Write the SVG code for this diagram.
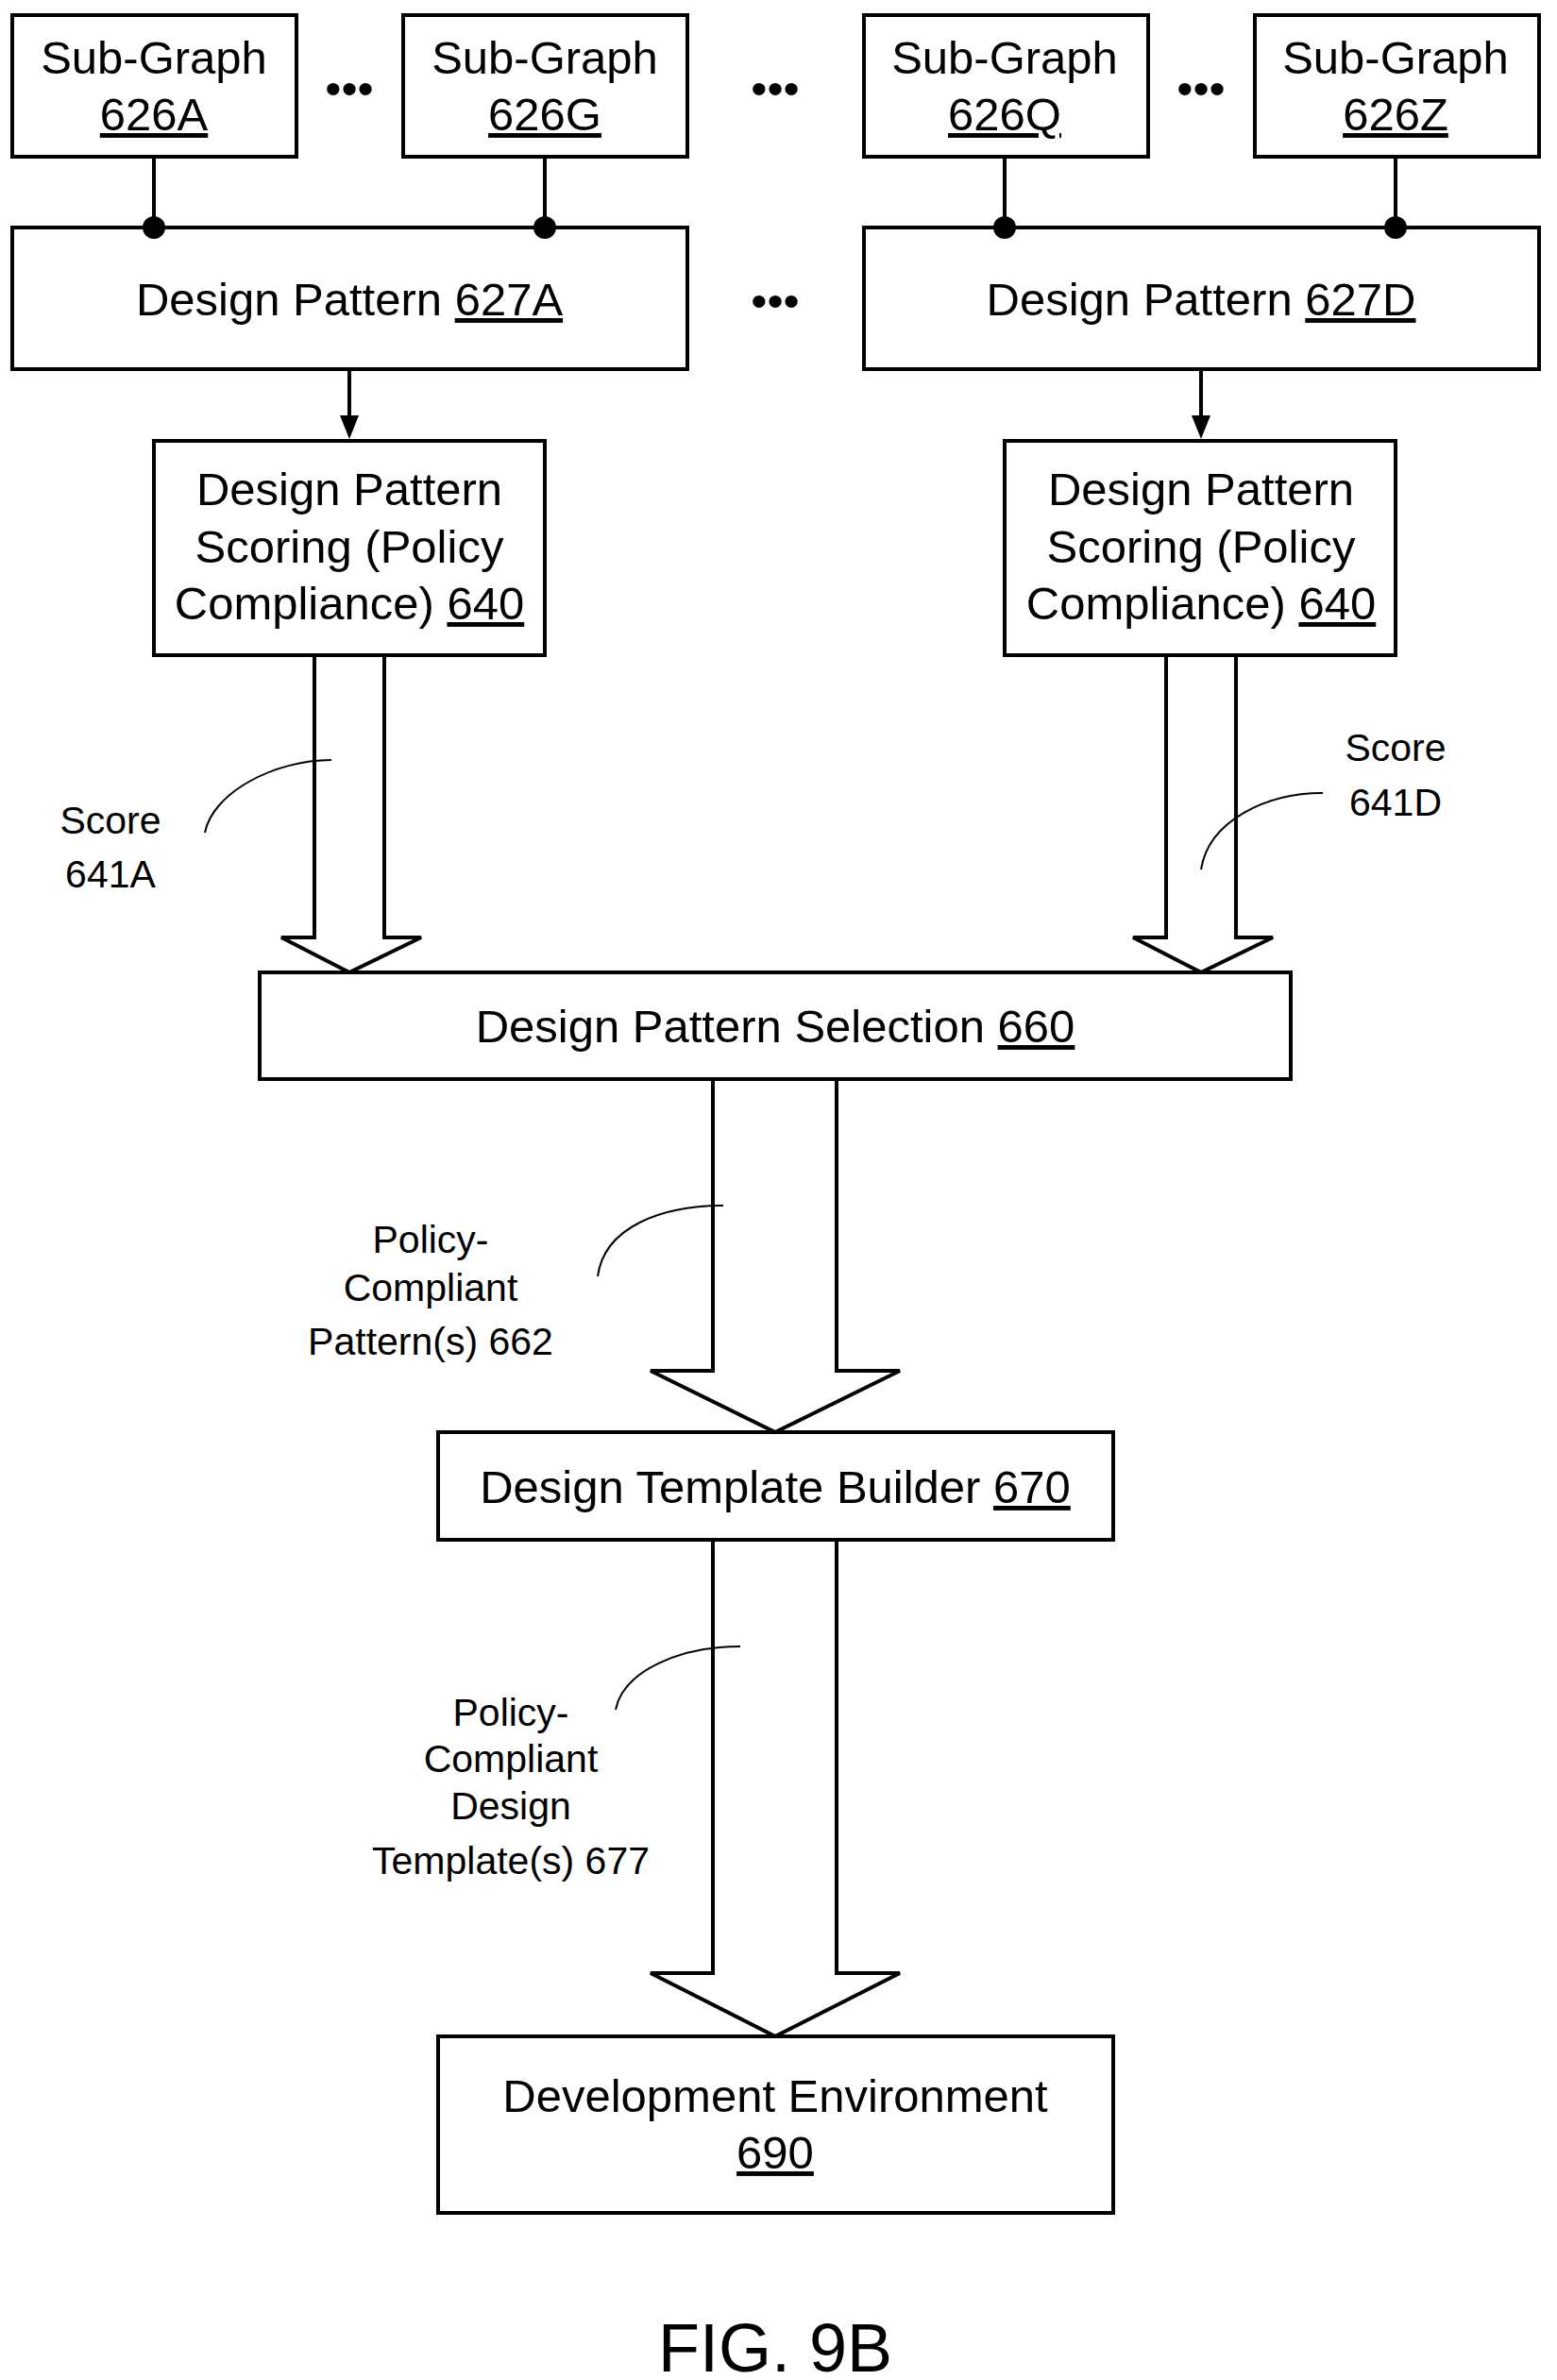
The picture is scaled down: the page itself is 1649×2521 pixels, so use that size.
<svg xmlns="http://www.w3.org/2000/svg" width="1649" height="2521" viewBox="0 0 1649 2521">
<style>
.b{fill:#fff;stroke:#000;stroke-width:4}
.t{font-family:"Liberation Sans",Arial,sans-serif;font-size:49px;text-anchor:middle;fill:#000}
.s{font-family:"Liberation Sans",Arial,sans-serif;font-size:41px;text-anchor:middle;fill:#000}
.u{text-decoration:underline}
.l{stroke:#000;stroke-width:4;fill:none}
.c{stroke:#000;stroke-width:2;fill:none}
.ba{fill:#fff;stroke:#000;stroke-width:4;stroke-linejoin:miter}
</style>
<rect width="1649" height="2521" fill="#fff"/>
<g id="sg626A"><rect class="b" x="13" y="16" width="301" height="150"/><text class="t" x="163" y="78">Sub-Graph</text><text class="t u" x="163" y="138">626A</text></g>
<g id="sg626G"><rect class="b" x="427" y="16" width="301" height="150"/><text class="t" x="577" y="78">Sub-Graph</text><text class="t u" x="577" y="138">626G</text></g>
<g id="sg626Q"><rect class="b" x="915" y="16" width="301" height="150"/><text class="t" x="1064" y="78">Sub-Graph</text><text class="t u" x="1064" y="138">626Q</text></g>
<g id="sg626Z"><rect class="b" x="1329" y="16" width="301" height="150"/><text class="t" x="1478" y="78">Sub-Graph</text><text class="t u" x="1478" y="138">626Z</text></g>
<g id="dots"><text class="t" x="370" y="110">•••</text><text class="t" x="821" y="110">•••</text><text class="t" x="1272" y="110">•••</text><text class="t" x="821" y="335">•••</text></g>
<g id="dp627A"><rect class="b" x="13" y="241" width="715" height="150"/><text class="t" x="370" y="334">Design Pattern <tspan class="u">627A</tspan></text></g>
<g id="dp627D"><rect class="b" x="915" y="241" width="715" height="150"/><text class="t" x="1272" y="334">Design Pattern <tspan class="u">627D</tspan></text></g>
<g id="score1"><rect class="b" x="163" y="467" width="414" height="227"/><text class="t" x="370" y="535">Design Pattern</text><text class="t" x="370" y="596">Scoring (Policy</text><text class="t" x="370" y="656">Compliance) <tspan class="u">640</tspan></text></g>
<g id="score2"><rect class="b" x="1064" y="467" width="414" height="227"/><text class="t" x="1272" y="535">Design Pattern</text><text class="t" x="1272" y="596">Scoring (Policy</text><text class="t" x="1272" y="656">Compliance) <tspan class="u">640</tspan></text></g>
<g id="sel660"><rect class="b" x="275" y="1030" width="1092" height="113"/><text class="t" x="821" y="1104">Design Pattern Selection <tspan class="u">660</tspan></text></g>
<g id="tb670"><rect class="b" x="464" y="1517" width="715" height="114"/><text class="t" x="821" y="1592">Design Template Builder <tspan class="u">670</tspan></text></g>
<g id="dev690"><rect class="b" x="464" y="2157" width="715" height="187"/><text class="t" x="821" y="2237">Development Environment</text><text class="t u" x="821" y="2297">690</text></g>
<g id="connectors">
<line class="l" x1="163" y1="166" x2="163" y2="241"/><circle cx="163" cy="241" r="12"/>
<line class="l" x1="577" y1="166" x2="577" y2="241"/><circle cx="577" cy="241" r="12"/>
<line class="l" x1="1064" y1="166" x2="1064" y2="241"/><circle cx="1064" cy="241" r="12"/>
<line class="l" x1="1478" y1="166" x2="1478" y2="241"/><circle cx="1478" cy="241" r="12"/>
<path d="M370,393V448" class="l"/><path d="M360,440L370,465L380,440z"/>
<path d="M1272,393V448" class="l"/><path d="M1262,440L1272,465L1282,440z"/>
<path class="ba" d="M333,696V993H298L370,1030L446,993H407V696"/>
<path class="ba" d="M1235,696V993H1200L1272,1030L1348,993H1309V696"/>
<path class="ba" d="M755,1145V1452H689L821,1517L953,1452H886V1145"/>
<path class="ba" d="M755,1633V2090H689L821,2157L953,2090H886V1633"/>
<path class="c" d="M217,882C225,840 290,805 351,805"/>
<path class="c" d="M1272,921C1280,870 1340,840 1401,840"/>
<path class="c" d="M633,1352C640,1300 700,1277 766,1277"/>
<path class="c" d="M652,1811C660,1770 720,1744 784,1744"/>
</g>
<g id="labels">
<text class="s" x="117" y="883">Score</text><text class="s" x="117" y="940">641A</text>
<text class="s" x="1478" y="806">Score</text><text class="s" x="1478" y="864">641D</text>
<text class="s" x="456" y="1327">Policy-</text><text class="s" x="456" y="1378">Compliant</text><text class="s" x="456" y="1435">Pattern(s) 662</text>
<text class="s" x="541" y="1828">Policy-</text><text class="s" x="541" y="1877">Compliant</text><text class="s" x="541" y="1927">Design</text><text class="s" x="541" y="1985">Template(s) 677</text>
<text x="821" y="2512" style="font-family:'Liberation Sans',Arial,sans-serif;font-size:72px;text-anchor:middle">FIG. 9B</text>
</g>
</svg>
